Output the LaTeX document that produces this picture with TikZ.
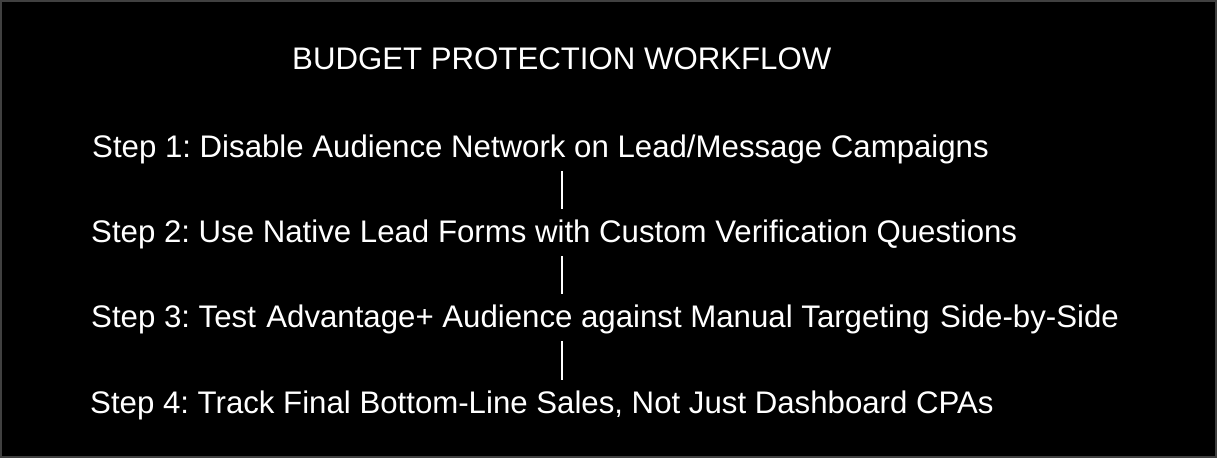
\documentclass[tikz,border=0pt]{standalone}
\usepackage{fontspec}
\setmainfont{Liberation Sans}
\usepackage{tikz}
\usetikzlibrary{positioning,calc}

\tikzset{
    steptext/.style={anchor=base west, inner sep=0pt, text=white,
        font=\fontsize{31.2}{36}\selectfont\frenchspacing},
    stepbar/.style={draw=white, line width=2.6pt},
}

\begin{document}
\begin{tikzpicture}[x=1pt,y=-1pt]
            \useasboundingbox (0,0) rectangle (1218,458);
            \path[fill=black, draw={rgb,255:red,64;green,64;blue,64}, line width=2.5pt]
                (1,1) rectangle (1216,457)
            ;
            \node (title) [steptext] at (292,69) {BUDGET PROTECTION WORKFLOW};
            \node (stepone) [steptext] at (92,157) {Step 1: Disable Audience Network on Lead/Message Campaigns};
            \node (steptwo) [steptext] at (91,242) {Step 2: Use Native Lead Forms with Custom Verification Questions};
            \node (stepthree) [steptext] at (91,327) {Step 3: Test\,\,Advantage+ Audience against Manual Targeting\,\,Side-by-Side};
            \node (stepfour) [steptext] at (90,413) {Step 4: Track Final Bottom-Line Sales, Not Just Dashboard CPAs};
            \coordinate (axis) at (562,0);
            \draw[stepbar]
                ($(stepone.base -| axis)+(0,14)$) -- ($(steptwo.base -| axis)+(0,-33)$)
                ($(steptwo.base -| axis)+(0,14)$) -- ($(stepthree.base -| axis)+(0,-33)$)
                ($(stepthree.base -| axis)+(0,14)$) -- ($(stepfour.base -| axis)+(0,-33)$)
            ;
\end{tikzpicture}
\end{document}
